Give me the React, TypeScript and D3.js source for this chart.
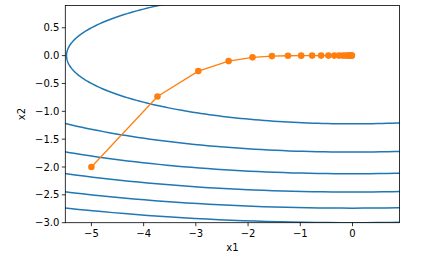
import React from "react";
import * as d3 from "d3";

// RMSProp trajectory
const trajX1 = [-5, -3.735, -2.953, -2.373, -1.915, -1.543, -1.236, -0.983, -0.773, -0.601, -0.461, -0.348, -0.258, -0.188, -0.134, -0.094, -0.064, -0.043, -0.028, -0.017, -0.011];
const trajX2 = [-2, -0.735, -0.278, -0.098, -0.031, -0.009, -0.002, -0.0004, 0, 0, 0, 0, 0, 0, 0, 0, 0, 0, 0, 0, 0];

// contour levels of f = 0.1*x1^2 + 2*x2^2
const contourLevels = [3, 6, 9, 12, 15, 18];
const coefX1 = 0.1;
const coefX2 = 2;

const xTicks = [-5, -4, -3, -2, -1, 0];
const yTicks = [0.5, 0.0, -0.5, -1.0, -1.5, -2.0, -2.5, -3.0];
const xDomain = [-5.5, 0.9];
const yDomain = [-3.0, 0.9];

const W = 427;
const H = 255;
const L = 65.3;
const R = 399.5;
const T = 5.5;
const B = 222.7;

const fmt = (v: number, d: number) => {
  const s = v.toFixed(d);
  return s.startsWith("-") ? "\u2212" + s.slice(1) : s;
};

export default function App() {
  const x = d3.scaleLinear().domain(xDomain).range([L, R]);
  const y = d3.scaleLinear().domain(yDomain).range([B, T]);
  const line = d3
    .line<[number, number]>()
    .x((d) => x(d[0]))
    .y((d) => y(d[1]));

  const angles = d3.range(0, 361).map((i) => (i * Math.PI) / 180);
  const contours = contourLevels.map((c) => {
    const a = Math.sqrt(c / coefX1);
    const b = Math.sqrt(c / coefX2);
    return angles.map((t) => [a * Math.cos(t), b * Math.sin(t)] as [number, number]);
  });
  const pts = trajX1.map((v, i) => [v, trajX2[i]] as [number, number]);
  const font = "DejaVu Sans, sans-serif";

  return (
    <svg
      width={W}
      height={H}
      style={{ position: "absolute", left: 0, top: 0, background: "#fff" }}
    >
      <defs>
        <clipPath id="plot">
          <rect x={L} y={T} width={R - L} height={B - T} />
        </clipPath>
      </defs>
      <g clipPath="url(#plot)">
        {contours.map((c, i) => (
          <path key={i} d={line(c) || ""} fill="none" stroke="#1f77b4" strokeWidth={1.5} />
        ))}
        <path d={line(pts) || ""} fill="none" stroke="#ff7f0e" strokeWidth={1.3} />
        {pts.map((p, i) => (
          <circle key={i} cx={x(p[0])} cy={y(p[1])} r={3.3} fill="#ff7f0e" />
        ))}
      </g>
      <rect x={L} y={T} width={R - L} height={B - T} fill="none" stroke="#000" strokeWidth={0.8} />
      {xTicks.map((t) => (
        <g key={"x" + t}>
          <line x1={x(t)} x2={x(t)} y1={B} y2={B + 3.5} stroke="#000" strokeWidth={0.8} />
          <text x={x(t)} y={B + 14.5} textAnchor="middle" fontSize={10} fontFamily={font} fill="#000">
            {fmt(t, 0)}
          </text>
        </g>
      ))}
      {yTicks.map((t) => (
        <g key={"y" + t}>
          <line x1={L - 3.5} x2={L} y1={y(t)} y2={y(t)} stroke="#000" strokeWidth={0.8} />
          <text x={L - 6} y={y(t) + 3.6} textAnchor="end" fontSize={10} fontFamily={font} fill="#000">
            {fmt(t, 1)}
          </text>
        </g>
      ))}
      <text x={(L + R) / 2} y={251} textAnchor="middle" fontSize={10} fontFamily={font} fill="#000">
        x1
      </text>
      <text
        transform={`translate(24.5, ${(T + B) / 2}) rotate(-90)`}
        textAnchor="middle"
        fontSize={10}
        fontFamily={font}
        fill="#000"
      >
        x2
      </text>
    </svg>
  );
}
